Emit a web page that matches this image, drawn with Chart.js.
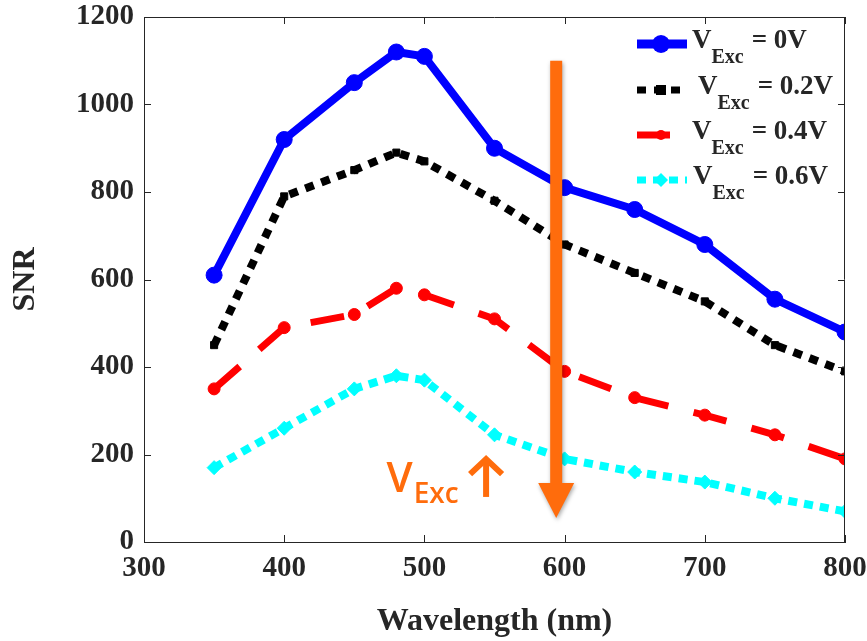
<!DOCTYPE html>
<html><head><meta charset="utf-8">
<script src="https://cdn.jsdelivr.net/npm/chart.js@4/dist/chart.umd.min.js"></script>
<style>html,body{margin:0;padding:0;background:#fff;}</style>
</head><body>
<canvas id="c" width="867" height="641"></canvas>
<script>
const wavelengths = [350,400,450,480,500,550,600,650,700,750,800];
const snr0V  = [610,920,1050,1120,1110,900,810,760,680,555,480];
const snr02V = [450,790,850,890,870,780,680,615,550,450,390];
const snr04V = [350,490,520,580,565,510,390,330,290,245,190];
const snr06V = [170,260,350,380,370,245,190,160,137,100,70];
const xTicks = [300,400,500,600,700,800];
const yTicks = [0,200,400,600,800,1000,1200];
const legendTexts = ['= 0V','= 0.2V','= 0.4V','= 0.6V'];
const seriesColors = ['#0000FF','#000000','#FF0000','#00FFFF'];
const seriesDash = [[],[9,8],[34,26],[9,7]];
const pointStyles = ['circle','rect','circle','rectRot'];
const pointSizes = [8,5,6,7];

// annotation positions (data units)
const bigArrow = {x:594, top:1100, headStart:135, tip:55};
const vexcLabel = {x:473, y:114};
const smallArrow = {x:544, top:194, bottom:103};

const AX = '#262626';
const ORANGE = '#FF6C0C';
const serif = "'Liberation Serif','Times New Roman',serif";

const toXY = arr => wavelengths.map((w,i)=>({x:w,y:arr[i]}));
const seriesData = [snr0V, snr02V, snr04V, snr06V];

const datasets = seriesData.map((arr,i)=>({
  label: 'V_Exc ' + legendTexts[i],
  data: toXY(arr),
  borderColor: seriesColors[i],
  backgroundColor: seriesColors[i],
  borderWidth: i===0 ? 8 : (i===2 ? 7 : 8),
  borderDash: seriesDash[i],
  borderCapStyle: 'butt',
  borderJoinStyle: 'miter',
  pointStyle: pointStyles[i],
  pointRadius: pointSizes[i],
  pointBorderWidth: 1,
  tension: 0
}));

const frame = {
  id:'frame',
  afterDraw(chart){
    const {ctx, chartArea:a, scales:{x,y}} = chart;
    ctx.save();
    ctx.strokeStyle = AX; ctx.lineWidth = 1;
    ctx.beginPath();
    ctx.moveTo(a.left, a.top+0.5); ctx.lineTo(a.right, a.top+0.5);
    ctx.moveTo(a.right-0.5, a.top); ctx.lineTo(a.right-0.5, a.bottom);
    const L = 7;
    xTicks.forEach(v=>{
      const px = Math.round(x.getPixelForValue(v))+0.5;
      ctx.moveTo(px, a.bottom); ctx.lineTo(px, a.bottom-L);
      ctx.moveTo(px, a.top); ctx.lineTo(px, a.top+L);
    });
    yTicks.forEach(v=>{
      const py = Math.round(y.getPixelForValue(v))+0.5;
      ctx.moveTo(a.left, py); ctx.lineTo(a.left+L, py);
      ctx.moveTo(a.right, py); ctx.lineTo(a.right-L, py);
    });
    ctx.stroke();
    ctx.restore();
  }
};

const annot = {
  id:'annot',
  afterDatasetsDraw(chart){
    const {ctx, scales:{x,y}} = chart;
    ctx.save();
    const cx = x.getPixelForValue(bigArrow.x);
    const yt = y.getPixelForValue(bigArrow.top);
    const yh = y.getPixelForValue(bigArrow.headStart);
    const ytip = y.getPixelForValue(bigArrow.tip);
    ctx.shadowColor = 'rgba(0,0,0,0.35)';
    ctx.shadowBlur = 4; ctx.shadowOffsetX = 1; ctx.shadowOffsetY = 2;
    ctx.fillStyle = ORANGE;
    ctx.beginPath();
    ctx.moveTo(cx-6, yt); ctx.lineTo(cx+6, yt); ctx.lineTo(cx+6, yh);
    ctx.lineTo(cx+18, yh); ctx.lineTo(cx, ytip); ctx.lineTo(cx-18, yh);
    ctx.lineTo(cx-6, yh); ctx.closePath(); ctx.fill();
    ctx.shadowColor = 'transparent';
    const lx = x.getPixelForValue(vexcLabel.x), ly = y.getPixelForValue(vexcLabel.y);
    ctx.fillStyle = ORANGE;
    ctx.textBaseline = 'alphabetic'; ctx.textAlign = 'left';
    ctx.font = "600 42px 'Open Sans', sans-serif";
    ctx.fillText('V', lx, ly);
    const vw = ctx.measureText('V').width;
    ctx.font = "600 28px 'Open Sans', sans-serif";
    ctx.fillText('Exc', lx+vw+1, ly+11);
    const sx = x.getPixelForValue(smallArrow.x);
    const st = y.getPixelForValue(smallArrow.top), sb = y.getPixelForValue(smallArrow.bottom);
    ctx.strokeStyle = ORANGE; ctx.lineWidth = 6; ctx.lineCap='butt'; ctx.lineJoin='miter';
    ctx.beginPath(); ctx.moveTo(sx, sb); ctx.lineTo(sx, st+3); ctx.stroke();
    ctx.beginPath(); ctx.moveTo(sx-16, st+17); ctx.lineTo(sx, st+2); ctx.lineTo(sx+16, st+17); ctx.stroke();
    ctx.restore();
  }
};

const legendPlug = {
  id:'legendPlug',
  afterDraw(chart){
    const {ctx, chartArea:a} = chart;
    const x0 = a.right - 208, x1 = a.right - 158;
    const rows = [27, 73, 118, 163];
    const ends = [x1, x1, x0+33, x1];
    const txs = [a.right-153, a.right-147, a.right-153, a.right-152];
    ctx.save();
    rows.forEach((dy,i)=>{
      const yy = a.top + dy;
      ctx.strokeStyle = seriesColors[i]; ctx.fillStyle = seriesColors[i];
      ctx.lineWidth = i===0 ? 9 : 7; ctx.lineCap = 'butt';
      ctx.setLineDash(seriesDash[i]);
      ctx.beginPath(); ctx.moveTo(x0, yy); ctx.lineTo(ends[i], yy); ctx.stroke();
      ctx.setLineDash([]);
      const mx = x0 + 24;
      ctx.beginPath();
      if (i===0) { ctx.arc(mx, yy, 9, 0, Math.PI*2); ctx.fill(); }
      else if (i===1) { ctx.fillRect(mx-5, yy-5, 10, 10); }
      else if (i===2) { ctx.arc(mx, yy, 5, 0, Math.PI*2); ctx.fill(); }
      else { ctx.moveTo(mx, yy-7); ctx.lineTo(mx+7, yy); ctx.lineTo(mx, yy+7); ctx.lineTo(mx-7, yy); ctx.closePath(); ctx.fill(); }
      ctx.fillStyle = AX; ctx.textBaseline='alphabetic'; ctx.textAlign='left';
      const tx = txs[i];
      ctx.font = "bold 27px " + serif;
      ctx.fillText('V', tx, yy+4);
      const vw = ctx.measureText('V').width;
      ctx.font = "bold 20px " + serif;
      ctx.fillText('Exc', tx+vw, yy+19);
      const ew = ctx.measureText('Exc').width;
      ctx.font = "bold 27px " + serif;
      ctx.fillText(legendTexts[i], tx+vw+ew+8, yy+4);
    });
    ctx.restore();
  }
};

new Chart(document.getElementById('c'), {
  type:'line',
  data:{datasets},
  options:{
    responsive:false, animation:false, devicePixelRatio:1,
    layout:{padding:{top:17, right:22, left:0, bottom:0}},
    plugins:{legend:{display:false}, tooltip:{enabled:false}},
    scales:{
      x:{
        type:'linear', min:300, max:800,
        afterBuildTicks: s => { s.ticks = xTicks.map(v=>({value:v})); },
        afterFit: s => { s.height = 99; s.paddingLeft = 0; s.paddingRight = 0; },
        grid:{display:false, drawTicks:false},
        border:{display:true, color:AX, width:1},
        ticks:{color:AX, padding:9, callback: v => String(v), font:{family:serif, size:29, weight:'bold'}},
        title:{display:true, text:'Wavelength (nm)', color:AX, padding:{top:0,bottom:0},
               font:{family:serif, size:32, weight:'bold'}}
      },
      y:{
        type:'linear', min:0, max:1200,
        afterBuildTicks: s => { s.ticks = yTicks.map(v=>({value:v})); },
        afterFit: s => { s.width = 144; s.paddingTop = 0; s.paddingBottom = 0; },
        grid:{display:false, drawTicks:false},
        border:{display:true, color:AX, width:1},
        ticks:{color:AX, padding:10, callback: v => String(v), font:{family:serif, size:29, weight:'bold'}},
        title:{display:true, text:'SNR', color:AX, padding:{top:7,bottom:0},
               font:{family:serif, size:32, weight:'bold'}}
      }
    }
  },
  plugins:[frame, annot, legendPlug]
});
</script>
</body></html>
